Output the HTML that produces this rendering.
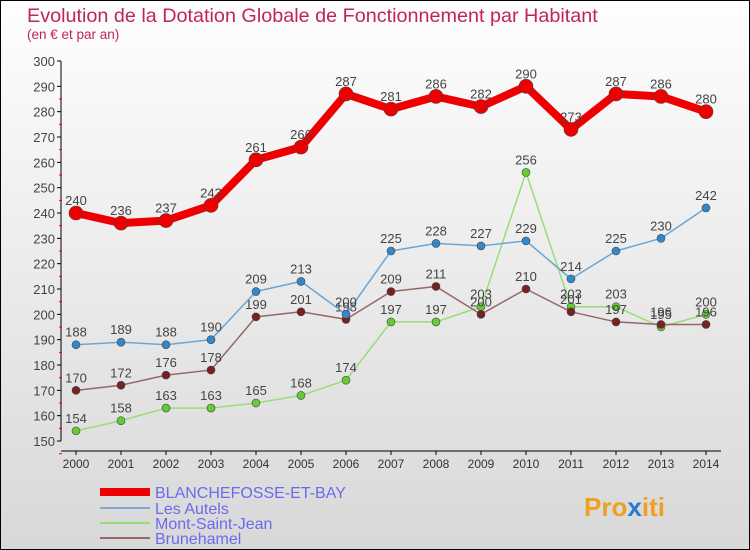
<!DOCTYPE html>
<html><head><meta charset="utf-8"><style>
body{margin:0}
#c{position:relative;width:748px;height:548px;border:1px solid #000;background:linear-gradient(#fefefe,#d8d8d8);font-family:"Liberation Sans",sans-serif;overflow:hidden}
</style></head><body>
<div id="c">
<svg id="s" width="748" height="548" xmlns="http://www.w3.org/2000/svg">
<text x="26" y="21" font-size="19.8" fill="#c0245a">Evolution de la Dotation Globale de Fonctionnement par Habitant</text>
<text x="26" y="38" font-size="13.5" fill="#c0245a">(en € et par an)</text>
<g id="axes"></g><g id="series"></g>
<g>
<line x1="99" y1="491" x2="149" y2="491" stroke="#e00" stroke-width="8"/>
<text x="154" y="497" font-size="16" fill="#6a6af0">BLANCHEFOSSE-ET-BAY</text>
<line x1="99" y1="507" x2="149" y2="507" stroke="#7aa8d0" stroke-width="2"/>
<text x="154" y="513" font-size="16" fill="#6a6af0">Les Autels</text>
<line x1="99" y1="522" x2="149" y2="522" stroke="#99dd77" stroke-width="2"/>
<text x="154" y="528" font-size="16" fill="#6a6af0">Mont-Saint-Jean</text>
<line x1="99" y1="537" x2="149" y2="537" stroke="#996666" stroke-width="2"/>
<text x="154" y="543" font-size="16" fill="#6a6af0">Brunehamel</text>
</g>
<text x="583" y="515" font-size="26" font-weight="bold" fill="#f0a020">Pro<tspan fill="#2a7ad0">x</tspan>iti</text>
</svg></div>
<script>
const years=[2000,2001,2002,2003,2004,2005,2006,2007,2008,2009,2010,2011,2012,2013,2014];
const yTicks=[150,160,170,180,190,200,210,220,230,240,250,260,270,280,290,300];
const blanche=[240,236,237,243,261,266,287,281,286,282,290,273,287,286,280];
const autels=[188,189,188,190,209,213,200,225,228,227,229,214,225,230,242];
const msj=[154,158,163,163,165,168,174,197,197,203,256,203,203,195,200];
const brune=[170,172,176,178,199,201,198,209,211,200,210,201,197,196,196];
const NS='http://www.w3.org/2000/svg';
const xs=i=>75+i*45;
const ys=v=>440-(v-150)*380/150;
function mk(t,a,p){const e=document.createElementNS(NS,t);for(const k in a)e.setAttribute(k,a[k]);p.appendChild(e);return e;}
const ax=document.getElementById('axes');
const yl=mk('line',{x1:60,y1:60,x2:60,y2:440,stroke:'#000'},ax);


const xl=mk('line',{x1:60,y1:450,x2:720,y2:450,stroke:'#000'},ax);


yTicks.forEach(v=>{const y=ys(v);mk('line',{x1:56,y1:y,x2:60,y2:y,stroke:'#000'},ax);
mk('line',{x1:58,y1:y+12.7,x2:61,y2:y+12.7,stroke:v<300?'#e00':'none'},ax);
const t=mk('text',{x:54,y:y+5,'font-size':13,'text-anchor':'end',fill:'#444'},ax);t.textContent=v;

});
years.forEach((yr,i)=>{const x=xs(i);mk('line',{x1:x,y1:450,x2:x,y2:454,stroke:'#000'},ax);
const t=mk('text',{x:x,y:467,'font-size':12,'text-anchor':'middle',fill:'#333'},ax);t.textContent=yr;

});
const sg=document.getElementById('series');
function series(d,col,dot,w,r,name){const g=mk('g',{},sg);


mk('polyline',{points:d.map((v,i)=>xs(i)+','+ys(v)).join(' '),fill:'none',stroke:col,'stroke-width':w,'stroke-linejoin':'round'},g);
d.forEach((v,i)=>{const c=mk('circle',{cx:xs(i),cy:ys(v),r:r,fill:dot,stroke:'#444','stroke-width':0.6},g);


const t=mk('text',{x:xs(i),y:ys(v)-8,'font-size':13,'text-anchor':'middle',fill:'#444'},g);t.textContent=v;});}
series(msj,'#99dd77','#66cc33',1.5,4,'series-mont-saint-jean');
series(brune,'#996666','#772222',1.5,4,'series-brunehamel');
series(autels,'#6aa6d6','#3388cc',1.5,4,'series-les-autels');
series(blanche,'#e00','#e00',8,7,'series-blanchefosse');
</script>
</body></html>
